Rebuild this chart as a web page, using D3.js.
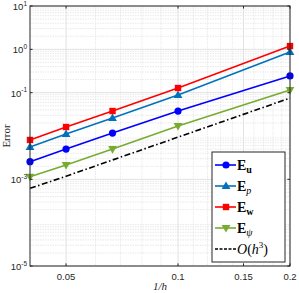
<!DOCTYPE html>
<html><head><meta charset="utf-8">
<script src="https://cdn.jsdelivr.net/npm/d3@7"></script>
<style>body{margin:0;background:#fff;}svg{display:block;}</style>
</head><body>
<script>
// ---- data ----
const hValues = [0.04, 0.05, 1/15, 0.1, 0.2];
const errU   = [2.55e-3, 5.0e-3, 1.17e-2, 3.77e-2, 0.243];
const errP   = [5.6e-3, 1.11e-2, 2.6e-2, 8.8e-2, 0.87];
const errW   = [8.1e-3, 1.61e-2, 3.77e-2, 0.128, 1.19];
const errPsi = [1.15e-3, 2.14e-3, 5.0e-3, 1.7e-2, 0.115];
const refH3  = [6.2e-4, 1.18e-3, 2.8e-3, 9.4e-3, 7.5e-2];
const xTicks = [0.05, 0.1, 0.15, 0.2];
const xTickLabels = ["0.05", "0.1", "0.15", "0.2"];
const yTickExps = [1, 0, -1, -3, -5];

const W = 299, H = 293;
const m = {l: 30, r: 9, t: 6, b: 27};
const svg = d3.select("body").append("svg").attr("width", W).attr("height", H);
const x = d3.scaleLog().domain([0.04, 0.2]).range([m.l, W - m.r]);
const y = d3.scaleLog().domain([1e-5, 10]).range([H - m.b, m.t]);
const axisCol = "#262626";

const g = svg.append("g");
// minor grid
const xMinor = [0.06,0.07,0.08,0.09,0.11,0.12,0.13,0.14,0.16,0.17,0.18,0.19];
g.selectAll(".xm").data(xMinor).enter().append("line")
  .attr("x1", d => x(d)).attr("x2", d => x(d)).attr("y1", m.t).attr("y2", H - m.b)
  .attr("stroke", "#e6e6e6").attr("stroke-width", 0.8).attr("stroke-dasharray", "1.5,1");
const yMinor = [];
for (let e = -5; e < 1; e++) for (let k = 2; k <= 9; k++) yMinor.push(k * Math.pow(10, e));
g.selectAll(".ym").data(yMinor).enter().append("line")
  .attr("x1", m.l).attr("x2", W - m.r).attr("y1", d => y(d)).attr("y2", d => y(d))
  .attr("stroke", "#e3e3e3").attr("stroke-width", 0.8).attr("stroke-dasharray", "1.5,1");
// major grid
g.selectAll(".xM").data(xTicks).enter().append("line")
  .attr("x1", d => x(d)).attr("x2", d => x(d)).attr("y1", m.t).attr("y2", H - m.b)
  .attr("stroke", "#dadada").attr("stroke-width", 0.8);
g.selectAll(".yM").data(yTickExps).enter().append("line")
  .attr("x1", m.l).attr("x2", W - m.r).attr("y1", d => y(Math.pow(10, d))).attr("y2", d => y(Math.pow(10, d)))
  .attr("stroke", "#dadada").attr("stroke-width", 0.8);

// series
const series = [
  {v: errU,   c: "#0000ff", mk: "circle"},
  {v: errP,   c: "#0072bd", mk: "tri"},
  {v: errW,   c: "#ff0000", mk: "square"},
  {v: errPsi, c: "#77ac30", mk: "dtri"},
];
const line = d3.line().x(d => x(d[0])).y(d => y(d[1]));
function marker(sel, type, c) {
  if (type === "circle") sel.append("circle").attr("r", 3.6).attr("fill", c);
  else if (type === "square") sel.append("rect").attr("x", -3.2).attr("y", -3.2).attr("width", 6.4).attr("height", 6.4).attr("fill", c);
  else if (type === "tri") sel.append("path").attr("d", "M0,-4.6L4.4,3L-4.4,3Z").attr("fill", c);
  else sel.append("path").attr("d", "M0,4.6L4.4,-3L-4.4,-3Z").attr("fill", c);
}
svg.append("path").datum(hValues.map((h, i) => [h, refH3[i]])).attr("d", line)
  .attr("fill", "none").attr("stroke", "#000").attr("stroke-width", 1.6).attr("stroke-dasharray", "6,2.5,1.5,2.5");
series.forEach(s => {
  const data = hValues.map((h, i) => [h, s.v[i]]);
  svg.append("path").datum(data).attr("d", line).attr("fill", "none").attr("stroke", s.c).attr("stroke-width", 1.6);
  data.forEach(d => {
    const mg = svg.append("g").attr("transform", `translate(${x(d[0])},${y(d[1])})`);
    marker(mg, s.mk, s.c);
  });
});

// axes box
svg.append("rect").attr("x", m.l).attr("y", m.t).attr("width", W - m.l - m.r).attr("height", H - m.t - m.b)
  .attr("fill", "none").attr("stroke", axisCol).attr("stroke-width", 1);
const tl = 2.6;
xTicks.forEach(t => {
  svg.append("line").attr("x1", x(t)).attr("x2", x(t)).attr("y1", H - m.b).attr("y2", H - m.b - tl).attr("stroke", axisCol);
  svg.append("line").attr("x1", x(t)).attr("x2", x(t)).attr("y1", m.t).attr("y2", m.t + tl).attr("stroke", axisCol);
});
yTickExps.forEach(e => {
  const yy = y(Math.pow(10, e));
  svg.append("line").attr("x1", m.l).attr("x2", m.l + tl).attr("y1", yy).attr("y2", yy).attr("stroke", axisCol);
  svg.append("line").attr("x1", W - m.r).attr("x2", W - m.r - tl).attr("y1", yy).attr("y2", yy).attr("stroke", axisCol);
});
// tick labels
const sans = "Liberation Sans, Arial, sans-serif";
xTicks.forEach((t, i) => {
  svg.append("text").attr("x", x(t)).attr("y", H - m.b + 14).attr("text-anchor", "middle")
    .attr("font-family", sans).attr("font-size", 9.5).attr("fill", axisCol).text(xTickLabels[i]);
});
yTickExps.forEach(e => {
  const yy = y(Math.pow(10, e));
  const t = svg.append("text").attr("x", 27).attr("y", yy + 4).attr("text-anchor", "end")
    .attr("font-family", sans).attr("font-size", 9.5).attr("fill", axisCol);
  t.append("tspan").text("10");
  t.append("tspan").attr("dy", -4.5).attr("font-size", 6.5).text(String(e));
});
// axis labels
const serif = "Liberation Serif, Times New Roman, serif";
svg.append("text").attr("x", (m.l + W - m.r) / 2).attr("y", H - 3).attr("text-anchor", "middle")
  .attr("font-family", serif).attr("font-size", 11).attr("font-style", "italic").attr("fill", axisCol).text("1/h");
svg.append("text").attr("transform", `translate(10,${(m.t + H - m.b) / 2}) rotate(-90)`).attr("text-anchor", "middle")
  .attr("font-family", serif).attr("font-size", 11).attr("fill", axisCol).text("Error");

// legend
const lg = svg.append("g").attr("transform", "translate(212,152)");
lg.append("rect").attr("width", 73).attr("height", 110).attr("fill", "#fff").attr("stroke", axisCol).attr("stroke-width", 1);
const entries = [
  {c: "#0000ff", mk: "circle", sub: "u", subBold: true},
  {c: "#0072bd", mk: "tri", sub: "p", subBold: false},
  {c: "#ff0000", mk: "square", sub: "w", subBold: true},
  {c: "#77ac30", mk: "dtri", sub: "\u03c8", subBold: false},
];
entries.forEach((en, i) => {
  const yy = 13 + i * 21;
  lg.append("line").attr("x1", 3).attr("x2", 24).attr("y1", yy).attr("y2", yy).attr("stroke", en.c).attr("stroke-width", 1.6);
  marker(lg.append("g").attr("transform", `translate(14,${yy})`), en.mk, en.c);
  const t = lg.append("text").attr("x", 25).attr("y", yy + 5).attr("font-family", serif).attr("font-size", 14).attr("fill", "#000");
  t.append("tspan").attr("font-weight", "bold").text("E");
  t.append("tspan").attr("dy", 3).attr("font-size", 10)
    .attr("font-weight", en.subBold ? "bold" : "normal").attr("font-style", en.subBold ? "normal" : "italic").text(en.sub);
});
{
  const yy = 13 + 4 * 21;
  lg.append("line").attr("x1", 3).attr("x2", 24).attr("y1", yy).attr("y2", yy).attr("stroke", "#000").attr("stroke-width", 1.4).attr("stroke-dasharray", "3,1.5");
  const t = lg.append("text").attr("x", 25).attr("y", yy + 5).attr("font-family", serif).attr("font-size", 14).attr("fill", "#000");
  t.append("tspan").attr("font-style", "italic").text("O");
  t.append("tspan").text("(");
  t.append("tspan").attr("font-style", "italic").text("h");
  t.append("tspan").attr("dy", -6).attr("font-size", 9).text("3");
  t.append("tspan").attr("dy", 6).text(")");
}
</script>
</body></html>
